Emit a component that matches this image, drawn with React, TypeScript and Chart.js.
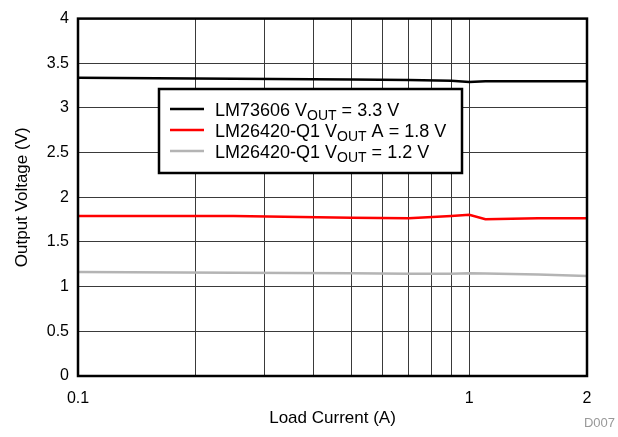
import React, { useEffect, useRef } from 'react';
import { Chart, registerables } from 'chart.js';

Chart.register(...registerables);

// ---- data ----
const loadCurrent = [0.1, 0.25, 0.5, 0.7, 0.9, 1.0, 1.1, 1.5, 2.0];
const lm73606 = [3.338, 3.328, 3.318, 3.312, 3.305, 3.29, 3.3, 3.3, 3.3];
const lm26420A = [1.792, 1.79, 1.772, 1.765, 1.792, 1.805, 1.755, 1.765, 1.765];
const lm26420B = [1.163, 1.155, 1.15, 1.145, 1.143, 1.15, 1.148, 1.135, 1.12];

const xGridValues = [0.1, 0.2, 0.3, 0.4, 0.5, 0.6, 0.7, 0.8, 0.9, 1, 2];
const xTickLabels = ['0.1', '1', '2'];
const yTickValues = [0, 0.5, 1, 1.5, 2, 2.5, 3, 3.5, 4];

const seriesNames = [
  ['LM73606 V', 'OUT', ' = 3.3 V'],
  ['LM26420-Q1 V', 'OUT', ' A = 1.8 V'],
  ['LM26420-Q1 V', 'OUT', ' = 1.2 V'],
];
const seriesColors = ['#000000', '#ff0000', '#b4b4b4'];

const FONT = '"Liberation Sans", Arial, sans-serif';

const toPoints = (ys: number[]) => loadCurrent.map((x, i) => ({ x, y: ys[i] }));

const decorPlugin = {
  id: 'decor',
  afterDatasetsDraw(chart: any) {
    const { ctx, chartArea } = chart;
    const { left, top, right, bottom } = chartArea;
    ctx.save();
    // frame
    ctx.strokeStyle = '#000';
    ctx.lineWidth = 2.5;
    ctx.strokeRect(left, top, right - left, bottom - top);

    // legend box
    const bx = 159, by = 89, bw = 303, bh = 84;
    ctx.fillStyle = '#fff';
    ctx.fillRect(bx, by, bw, bh);
    ctx.lineWidth = 2.5;
    ctx.strokeStyle = '#000';
    ctx.strokeRect(bx, by, bw, bh);

    seriesNames.forEach((parts, i) => {
      const cy = 109 + i * 21;
      ctx.strokeStyle = seriesColors[i];
      ctx.lineWidth = 2.5;
      ctx.beginPath();
      ctx.moveTo(170, cy);
      ctx.lineTo(204, cy);
      ctx.stroke();

      const base = cy + 7;
      let x = 215;
      ctx.fillStyle = '#000';
      ctx.textAlign = 'left';
      ctx.textBaseline = 'alphabetic';
      ctx.font = `18px ${FONT}`;
      ctx.fillText(parts[0], x, base);
      x += ctx.measureText(parts[0]).width;
      ctx.font = `14px ${FONT}`;
      ctx.fillText(parts[1], x, base + 4);
      x += ctx.measureText(parts[1]).width;
      ctx.font = `18px ${FONT}`;
      ctx.fillText(parts[2], x, base);
    });

    // axis titles
    ctx.fillStyle = '#000';
    ctx.font = `17px ${FONT}`;
    ctx.textAlign = 'center';
    ctx.textBaseline = 'middle';
    ctx.fillText('Load Current (A)', (left + right) / 2, 418);
    ctx.save();
    ctx.translate(22, (top + bottom) / 2);
    ctx.rotate(-Math.PI / 2);
    ctx.fillText('Output Voltage (V)', 0, 0);
    ctx.restore();

    // footnote
    ctx.fillStyle = '#999';
    ctx.font = `13px ${FONT}`;
    ctx.textAlign = 'right';
    ctx.fillText('D007', 615, 423);
    ctx.restore();
  },
};

export default function App() {
  const ref = useRef<HTMLCanvasElement | null>(null);

  useEffect(() => {
    if (!ref.current) return;
    const chart = new Chart(ref.current, {
      type: 'line',
      data: {
        datasets: [
          { label: 'LM73606', data: toPoints(lm73606), borderColor: seriesColors[0], borderWidth: 2.5, pointRadius: 0, tension: 0 },
          { label: 'LM26420-Q1 A', data: toPoints(lm26420A), borderColor: seriesColors[1], borderWidth: 2.5, pointRadius: 0, tension: 0 },
          { label: 'LM26420-Q1', data: toPoints(lm26420B), borderColor: seriesColors[2], borderWidth: 2.5, pointRadius: 0, tension: 0 },
        ],
      },
      options: {
        responsive: false,
        animation: false,
        devicePixelRatio: 1,
        layout: { padding: { left: 0, top: 15, right: 31, bottom: 0 } },
        plugins: { legend: { display: false }, tooltip: { enabled: false } },
        scales: {
          x: {
            type: 'logarithmic',
            min: 0.1,
            max: 2,
            afterBuildTicks: (scale: any) => {
              scale.ticks = xGridValues.map((v) => ({ value: v }));
            },
            afterFit: (scale: any) => {
              scale.height = 61;
            },
            grid: { color: '#3a3a3a', lineWidth: 1, drawTicks: false },
            border: { display: false },
            ticks: {
              autoSkip: false,
              maxRotation: 0,
              padding: 13,
              color: '#000',
              font: { family: FONT, size: 16 },
              callback: (value: any) => {
                const s = String(Math.round(Number(value) * 100) / 100);
                return xTickLabels.includes(s) ? s : '';
              },
            },
          },
          y: {
            type: 'linear',
            min: 0,
            max: 4,
            afterBuildTicks: (scale: any) => {
              scale.ticks = yTickValues.map((v) => ({ value: v }));
            },
            afterFit: (scale: any) => {
              scale.width = 78;
            },
            grid: { color: '#3a3a3a', lineWidth: 1, drawTicks: false },
            border: { display: false },
            ticks: {
              padding: 9,
              color: '#000',
              font: { family: FONT, size: 16 },
              callback: (value: any) => String(value),
            },
          },
        },
      },
      plugins: [decorPlugin],
    } as any);
    return () => chart.destroy();
  }, []);

  return (
    <div style={{ position: 'fixed', left: 0, top: 0, width: 618, height: 437, background: '#fff' }}>
      <canvas ref={ref} width={618} height={437} style={{ width: 618, height: 437, display: 'block' }} />
    </div>
  );
}
